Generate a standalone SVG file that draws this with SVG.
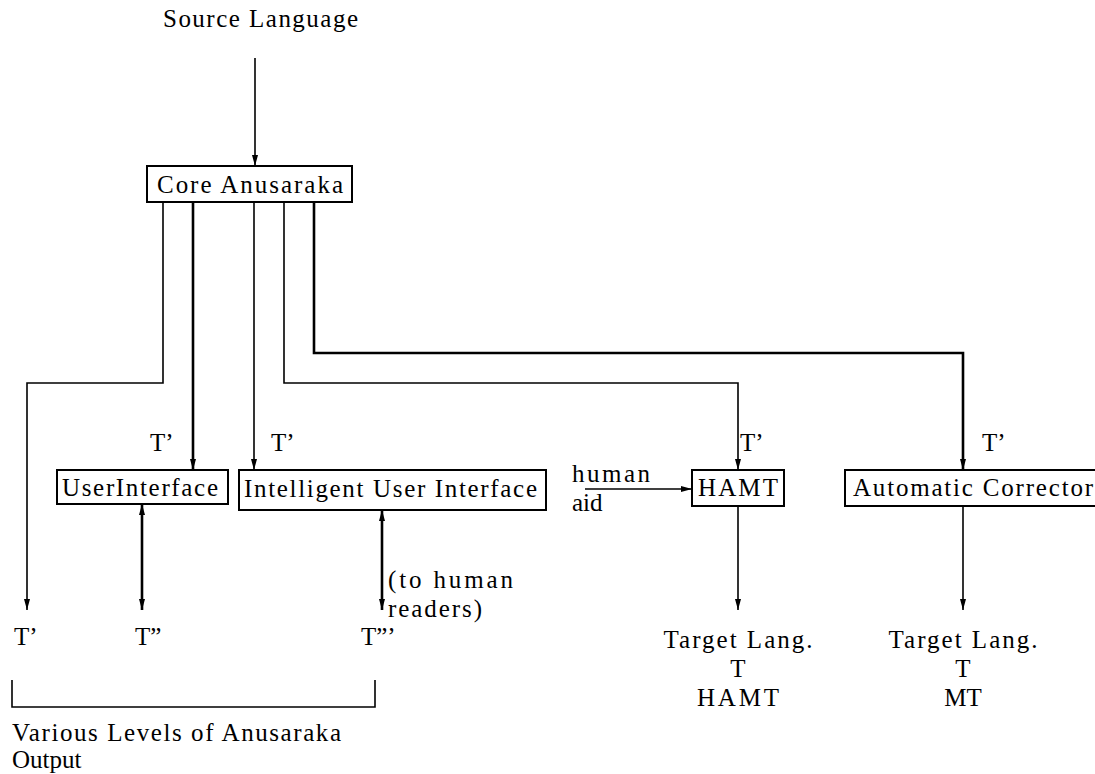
<svg xmlns="http://www.w3.org/2000/svg" width="1095" height="774" viewBox="0 0 1095 774">
  <style>
    text { font-family: 'Liberation Serif', 'DejaVu Serif', serif; font-size: 25px; fill: #000; }
    .mid { text-anchor: middle; }
    .box { fill: #fff; stroke: #000; stroke-width: 2; }
    .thin { fill: none; stroke: #000; stroke-width: 1.6; }
    .thick { fill: none; stroke: #000; stroke-width: 2.6; }
  </style>
  <defs>
    <marker id="arrow" viewBox="0 0 11 10" refX="11" refY="5" markerUnits="userSpaceOnUse" markerWidth="11" markerHeight="10" orient="auto-start-reverse">
      <path d="M0,2 L11,5 L0,8 Z" fill="#000"/>
    </marker>
  </defs>

  <rect width="1095" height="774" fill="#fff"/>

  <!-- connectors -->
  <g id="connectors">
    <path class="thin" d="M255,58 V166" marker-end="url(#arrow)"/>
    <path class="thin" d="M163,202 V383 H27 V610" marker-end="url(#arrow)"/>
    <path class="thick" d="M193,202 V470" marker-end="url(#arrow)"/>
    <path class="thin" d="M254,202 V470" marker-end="url(#arrow)"/>
    <path class="thin" d="M284,202 V383 H738 V470" marker-end="url(#arrow)"/>
    <path class="thick" d="M314,202 V353 H963 V470" marker-end="url(#arrow)"/>
    <path class="thin" d="M585,489 H692" marker-end="url(#arrow)"/>
    <path class="thick" d="M142,504 V610" marker-start="url(#arrow)" marker-end="url(#arrow)"/>
    <path class="thick" d="M382,510 V610" marker-start="url(#arrow)" marker-end="url(#arrow)"/>
    <path class="thin" d="M738,506 V610" marker-end="url(#arrow)"/>
    <path class="thin" d="M963,506 V610" marker-end="url(#arrow)"/>
    <!-- bracket grouping the output levels -->
    <path class="thin" d="M12,680 V707 H375 V680"/>
  </g>

  <g id="source">
    <text x="163" y="27" textLength="195" lengthAdjust="spacing">Source Language</text>
  </g>

  <g id="core">
    <rect class="box" x="147" y="166" width="205" height="36"/>
    <text x="157" y="193" textLength="186" lengthAdjust="spacing">Core Anusaraka</text>
  </g>

  <g id="user-interface">
    <rect class="box" x="57" y="470" width="171" height="34"/>
    <text x="62" y="496" textLength="156" lengthAdjust="spacing">UserInterface</text>
    <text x="150" y="451">T’</text>
  </g>

  <g id="intelligent-ui">
    <rect class="box" x="239" y="470" width="307" height="40"/>
    <text x="244" y="497" textLength="293" lengthAdjust="spacing">Intelligent User Interface</text>
    <text x="271" y="451">T’</text>
  </g>

  <g id="hamt">
    <rect class="box" x="692" y="470" width="92" height="36"/>
    <text x="738" y="496" class="mid" textLength="80" lengthAdjust="spacing">HAMT</text>
    <text x="740" y="451">T’</text>
    <text x="572" y="482" textLength="78" lengthAdjust="spacing">human</text>
    <text x="572" y="511">aid</text>
  </g>

  <g id="corrector">
    <rect class="box" x="845" y="470" width="260" height="36"/>
    <text x="853" y="496" textLength="240" lengthAdjust="spacing">Automatic Corrector</text>
    <text x="982" y="451">T’</text>
  </g>

  <g id="outputs">
    <text x="14" y="645">T’</text>
    <text x="135" y="645">T”</text>
    <text x="361" y="645">T”’</text>
    <text x="388" y="588" textLength="125" lengthAdjust="spacing">(to human</text>
    <text x="388" y="617" textLength="94" lengthAdjust="spacing">readers)</text>
    <text x="12" y="741" textLength="329" lengthAdjust="spacing">Various Levels of Anusaraka</text>
    <text x="12" y="768">Output</text>
  </g>

  <g id="target-hamt">
    <text x="738" y="648" class="mid" textLength="149" lengthAdjust="spacing">Target Lang.</text>
    <text x="738" y="677" class="mid">T</text>
    <text x="738" y="706" class="mid" textLength="82" lengthAdjust="spacing">HAMT</text>
  </g>

  <g id="target-mt">
    <text x="963" y="648" class="mid" textLength="149" lengthAdjust="spacing">Target Lang.</text>
    <text x="963" y="677" class="mid">T</text>
    <text x="963" y="706" class="mid">MT</text>
  </g>
</svg>
